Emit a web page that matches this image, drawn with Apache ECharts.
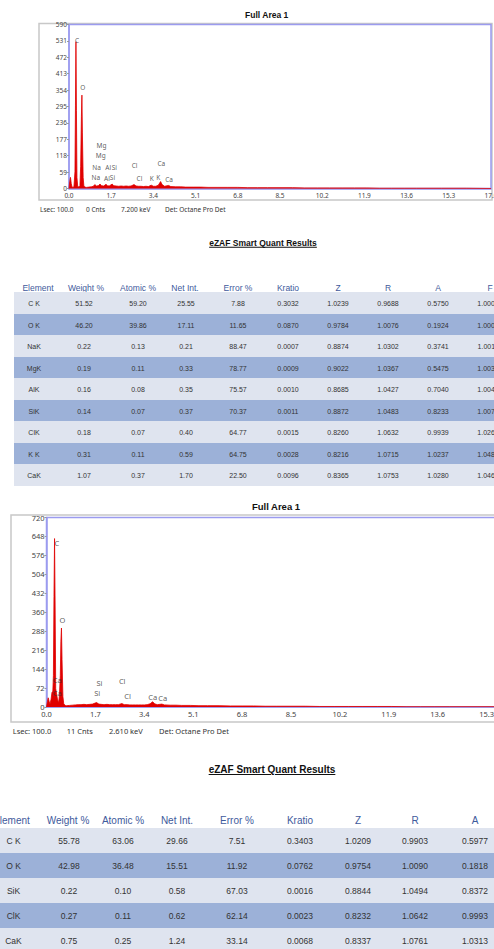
<!DOCTYPE html>
<html><head><meta charset="utf-8">
<script src="https://cdn.jsdelivr.net/npm/echarts@6/dist/echarts.min.js"></script>
<style>
html,body{margin:0;padding:0;background:#fff;width:494px;height:949px;overflow:hidden;position:relative;}
#chart{position:absolute;left:0;top:0;width:560px;height:760px;}
.t{position:absolute;white-space:nowrap;transform:translate(-50%,-50%);font-family:"Liberation Sans",Arial,sans-serif;line-height:1;}
.band{position:absolute;}
</style></head><body>
<div id="chart"></div>
<div id="tables"></div>
<script>
// ---------- DATA ----------
const chartTitle = 'Full Area 1';
const tableTitle = 'eZAF Smart Quant Results';

// spectrum 1: [keV, counts]
const spec1 = [[0.00,0],[0.03,25],[0.06,40],[0.09,18],[0.12,6],[0.16,4],[0.20,8],[0.24,60],[0.26,300],[0.28,528],[0.30,280],[0.32,40],[0.35,8],[0.40,5],[0.44,10],[0.47,80],[0.50,260],[0.52,336],[0.54,200],[0.57,40],[0.60,8],[0.65,5],[0.70,4],[0.80,5],[0.90,6],[0.98,8],[1.04,14],[1.10,9],[1.18,10],[1.25,16],[1.31,10],[1.40,9],[1.49,15],[1.55,10],[1.62,9],[1.74,16],[1.80,10],[1.90,9],[2.00,8],[2.10,9],[2.20,8],[2.30,9],[2.40,8],[2.50,9],[2.62,14],[2.70,9],[2.80,8],[2.90,8],[3.00,7],[3.10,8],[3.20,7],[3.31,12],[3.40,8],[3.50,8],[3.60,12],[3.69,25],[3.75,14],[3.85,8],[4.01,11],[4.10,7],[4.30,6],[4.50,6],[4.70,5],[5.00,5],[5.30,5],[5.60,4],[6.00,4],[6.40,4],[6.80,4],[7.20,3],[7.60,3],[8.00,3],[8.50,3],[9.00,3],[9.50,2],[10.00,2],[10.50,2],[11.00,2],[11.50,2],[12.00,2],[12.50,1],[13.00,1],[13.50,1],[14.00,1],[15.00,1],[16.00,1],[17.00,0]];
// spectrum 2
const spec2 = [[0.00,0],[0.03,20],[0.06,35],[0.09,22],[0.12,10],[0.16,30],[0.19,55],[0.22,60],[0.24,120],[0.26,420],[0.28,640],[0.30,380],[0.32,70],[0.35,50],[0.38,30],[0.42,15],[0.45,45],[0.48,120],[0.50,250],[0.52,300],[0.54,180],[0.57,40],[0.60,12],[0.65,6],[0.70,5],[0.80,6],[0.90,7],[1.00,8],[1.10,9],[1.20,9],[1.30,10],[1.40,9],[1.50,10],[1.60,11],[1.74,17],[1.82,11],[1.90,10],[2.00,9],[2.10,10],[2.20,9],[2.30,9],[2.40,9],[2.50,9],[2.62,13],[2.70,9],[2.80,9],[2.90,8],[3.00,8],[3.10,8],[3.20,8],[3.30,8],[3.40,8],[3.50,9],[3.60,12],[3.69,20],[3.76,12],[3.85,9],[4.01,11],[4.10,8],[4.30,7],[4.50,7],[4.70,6],[5.00,6],[5.30,5],[5.60,5],[6.00,5],[6.40,4],[6.80,4],[7.20,4],[7.60,3],[8.00,3],[8.50,3],[9.00,3],[9.50,2],[10.00,2],[10.50,2],[11.00,2],[11.50,2],[12.00,2],[12.50,1],[13.00,1],[13.50,1],[14.00,1],[15.00,1],[16.00,1],[17.00,0]];

// element annotations: [label, keV, counts]
const peaks1 = [['C',0.34,532],['O',0.58,362],['Mg',1.33,152],['Mg',1.30,116],['Na',1.13,72],['Al',1.60,72],['Si',1.85,75],['Cl',2.66,80],['Ca',3.74,88],['Na',1.10,36],['Al',1.55,33],['Si',1.77,36],['Cl',2.86,33],['K',3.35,33],['K',3.62,36],['Ca',4.05,30]];
const peaks2 = [['C',0.38,623],['O',0.57,330],['Ca',0.39,102],['Ca',0.39,53],['Si',1.86,89],['Si',1.78,51],['Cl',2.65,95],['Cl',2.84,38],['Ca',3.71,37],['Ca',4.06,34]];

const info1 = ['Lsec: 100.0','0 Cnts','7.200 keV','Det: Octane Pro Det'];
const info2 = ['Lsec: 100.0','11 Cnts','2.610 keV','Det: Octane Pro Det'];

const headers1 = ['Element','Weight %','Atomic %','Net Int.','Error %','Kratio','Z','R','A','F'];
const rows1 = [
 ['C K','51.52','59.20','25.55','7.88','0.3032','1.0239','0.9688','0.5750','1.0000'],
 ['O K','46.20','39.86','17.11','11.65','0.0870','0.9784','1.0076','0.1924','1.0000'],
 ['NaK','0.22','0.13','0.21','88.47','0.0007','0.8874','1.0302','0.3741','1.0011'],
 ['MgK','0.19','0.11','0.33','78.77','0.0009','0.9022','1.0367','0.5475','1.0033'],
 ['AlK','0.16','0.08','0.35','75.57','0.0010','0.8685','1.0427','0.7040','1.0046'],
 ['SiK','0.14','0.07','0.37','70.37','0.0011','0.8872','1.0483','0.8233','1.0075'],
 ['ClK','0.18','0.07','0.40','64.77','0.0015','0.8260','1.0632','0.9939','1.0263'],
 ['K K','0.31','0.11','0.59','64.75','0.0028','0.8216','1.0715','1.0237','1.0484'],
 ['CaK','1.07','0.37','1.70','22.50','0.0096','0.8365','1.0753','1.0280','1.0466']
];
const headers2 = ['Element','Weight %','Atomic %','Net Int.','Error %','Kratio','Z','R','A'];
const rows2 = [
 ['C K','55.78','63.06','29.66','7.51','0.3403','1.0209','0.9903','0.5977'],
 ['O K','42.98','36.48','15.51','11.92','0.0762','0.9754','1.0090','0.1818'],
 ['SiK','0.22','0.10','0.58','67.03','0.0016','0.8844','1.0494','0.8372'],
 ['ClK','0.27','0.11','0.62','62.14','0.0023','0.8232','1.0642','0.9993'],
 ['CaK','0.75','0.25','1.24','33.14','0.0068','0.8337','1.0761','1.0313']
];

// ---------- LAYOUT ----------
const RED = '#e00000', BLUE = '#9b9bef', GRAY = '#c8c8c8';
const L1 = {box:[39,23.5,453,176.5], grid:{left:69,top:24.5,width:422,height:164}, ymax:590, yint:59, fs:6.5,
            title:[266.7,15.3,8.5], infoX:[40,86,121,165], infoY:209, infoFs:6.5};
const L2 = {box:[11,515,540,207], grid:{left:46.5,top:517.5,width:489,height:189.5}, ymax:720, yint:72, fs:7.5,
            title:[276,506,9.5], infoX:[12.7,66.7,109,159], infoY:730.7, infoFs:7.5};

const CF = '"Noto Sans","Open Sans",sans-serif';
const chart = echarts.init(document.getElementById('chart'), null, {renderer:'svg'});

function axes(L, i){
  return {
    x:{gridIndex:i,type:'value',min:0,max:17,interval:1.7,
       axisLabel:{formatter:v=>v.toFixed(1),fontSize:L.fs,color:'#444',margin:3,fontFamily:CF},
       axisLine:{show:true,lineStyle:{color:BLUE,width:1.5}},axisTick:{show:false},splitLine:{show:false}},
    y:{gridIndex:i,type:'value',min:0,max:L.ymax,interval:L.yint,
       axisLabel:{fontSize:L.fs,color:'#444',margin:2,fontFamily:CF},
       axisLine:{show:true,lineStyle:{color:BLUE,width:1.5}},
       axisTick:{show:true,length:2,lineStyle:{color:'#999'}},splitLine:{show:false}}
  };
}
const a1 = axes(L1,0), a2 = axes(L2,1);
function specSeries(data,i){
  return {type:'line',xAxisIndex:i,yAxisIndex:i,data:data,symbol:'none',silent:true,
          lineStyle:{color:RED,width:0.8},areaStyle:{color:RED,opacity:1},z:2};
}
function labelSeries(pk,i,fs){
  return {type:'scatter',xAxisIndex:i,yAxisIndex:i,symbol:'circle',symbolSize:1,
          itemStyle:{color:'rgba(0,0,0,0)'},silent:true,z:5,
          data:pk.map(p=>({name:p[0],value:[p[1],p[2]]})),
          label:{show:true,position:[0,0],align:'center',verticalAlign:'middle',formatter:'{b}',
                 fontSize:fs,color:'#333',fontFamily:CF,textBorderWidth:0}};
}
function gfx(L, title, info){
  const g = [];
  g.push({type:'rect',silent:true,z:-1,shape:{x:L.box[0],y:L.box[1],width:L.box[2],height:L.box[3]},
          style:{fill:'none',stroke:GRAY,lineWidth:1.5}});
  g.push({type:'text',silent:true,x:L.title[0],y:L.title[1],
          style:{text:title,align:'center',verticalAlign:'middle',fill:'#111',
                 font:'bold '+L.title[2]+'px "Liberation Sans",Arial,sans-serif'}});
  info.forEach((s,k)=>g.push({type:'text',silent:true,x:L.infoX[k],y:L.infoY,
          style:{text:s,align:'left',verticalAlign:'middle',fill:'#333',font:L.infoFs+'px '+CF}}));
  return g;
}
chart.setOption({
  animation:false,
  grid:[Object.assign({show:true,borderColor:BLUE,borderWidth:1.5},L1.grid),
        Object.assign({show:true,borderColor:BLUE,borderWidth:1.5},L2.grid)],
  xAxis:[a1.x,a2.x], yAxis:[a1.y,a2.y],
  series:[specSeries(spec1,0),labelSeries(peaks1,0,6.5),specSeries(spec2,1),labelSeries(peaks2,1,7.5)],
  graphic:gfx(L1,chartTitle,info1).concat(gfx(L2,chartTitle,info2))
});

// ---------- TABLES (HTML) ----------
const T1 = {left:13.5, top:292.3, rowH:21.5, hy:287.5, hx:[38,86,138,185,238,288,338,388,438,490],
            cx:[34,84,138,186,238,288,338,388,438,488], hfs:8.5, cfs:7, title:[263,243.3,8.5]};
const T2 = {left:0, top:828.3, rowH:25, hy:821, hx:[11.5,68,123,177,237,300,358,415,475],
            cx:[13.5,69,123,177,237,300,358,415,475], hfs:10, cfs:8.5, title:[272,770,10]};
const root = document.getElementById('tables');
function el(cls, css, txt){const d=document.createElement('div');d.className=cls;Object.assign(d.style,css);if(txt!==undefined)d.textContent=txt;root.appendChild(d);return d;}
function table(T, headers, rows){
  el('t',{left:T.title[0]+'px',top:T.title[1]+'px',fontSize:T.title[2]+'px',fontWeight:'bold',textDecoration:'underline',color:'#111'},tableTitle);
  headers.forEach((h,j)=>el('t',{left:T.hx[j]+'px',top:T.hy+'px',fontSize:T.hfs+'px',color:'#3e5a9c'},h));
  rows.forEach((r,i)=>{
    const y = T.top + i*T.rowH;
    el('band',{left:T.left+'px',top:y+'px',width:(520-T.left)+'px',height:T.rowH+'px',background:i%2? '#9cb1d8':'#dfe4ef'});
    r.forEach((c,j)=>el('t',{left:T.cx[j]+'px',top:(y+T.rowH/2)+'px',fontSize:T.cfs+'px',color:'#333'},c));
  });
}
table(T1, headers1, rows1);
table(T2, headers2, rows2);
</script>
</body></html>
